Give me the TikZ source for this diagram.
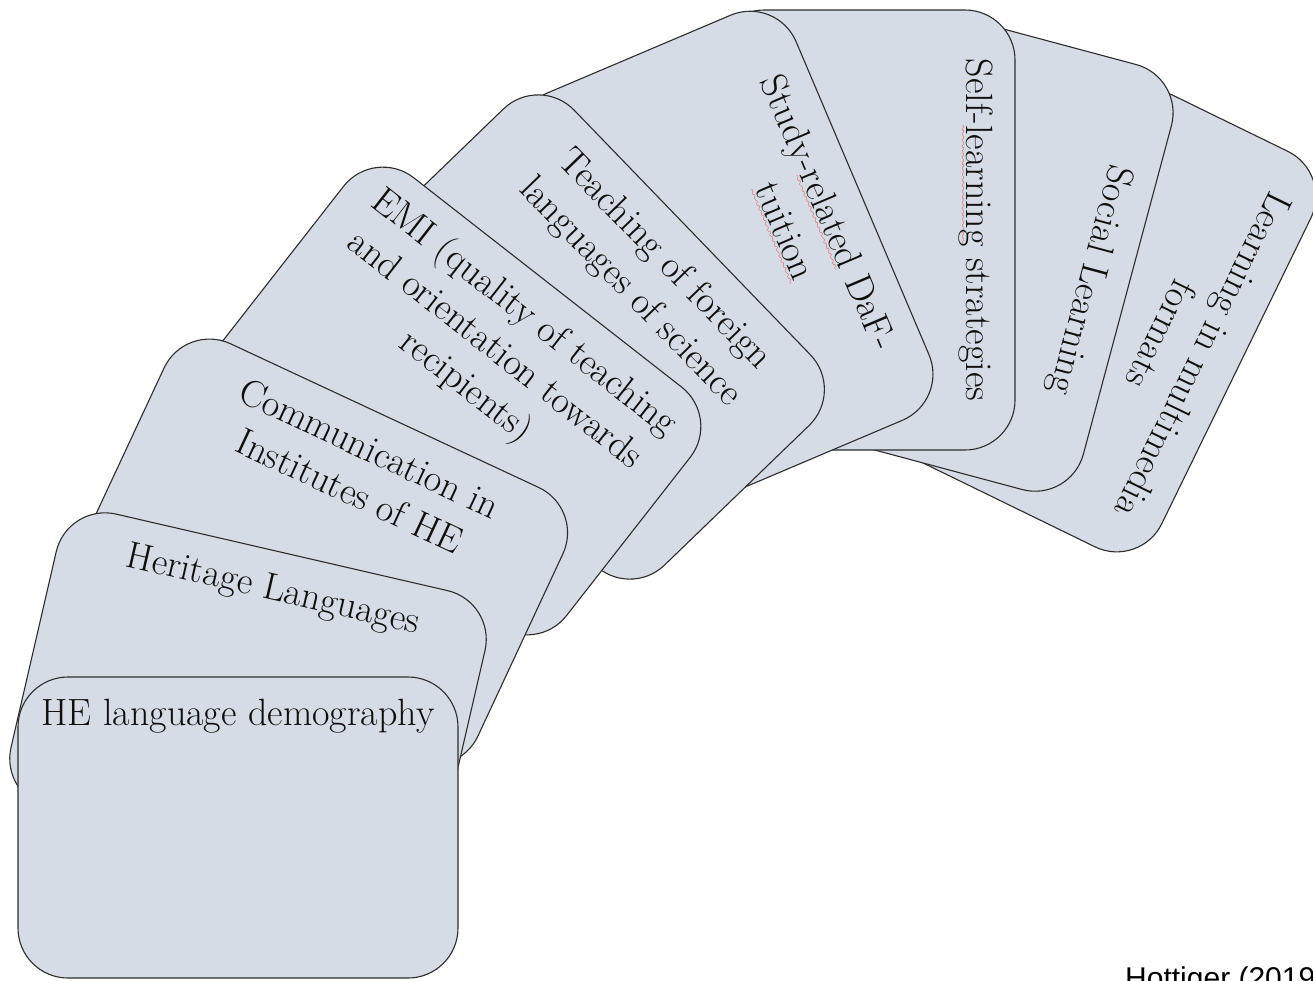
\documentclass[tikz,border=0pt]{standalone}
\usepackage{fontspec}
\newfontfamily\arialfont{Liberation Sans}
\definecolor{cardfill}{RGB}{214,220,229}
\definecolor{cardline}{RGB}{45,45,45}
\definecolor{cardtext}{RGB}{15,15,15}
\definecolor{spellred}{RGB}{235,30,30}
\font\wavefont=lasy8
\newsavebox\wavebox
\newcommand\spellwave[1]{\leavevmode\sbox\wavebox{#1}\rlap{\textcolor{spellred}{\lower5pt\hbox to \wd\wavebox{\leaders\hbox{\wavefont\char58}\hfill}}}\usebox\wavebox}
\newcommand\cardbox[1]{\parbox[c][301pt][t]{440pt}{\centering\fontsize{38}{47}\selectfont\vspace*{16pt}\strut #1\par}}
\tikzset{
  card/.style={draw=cardline, fill=cardfill, line width=1.1pt, rounded corners=50pt,
    inner sep=0pt, text=cardtext},
  cite/.style={anchor=base west, inner sep=0pt, text=black, font=\arialfont\fontsize{30}{32}\selectfont}
}
\begin{document}
\begin{tikzpicture}[x=1pt,y=-1pt]
\useasboundingbox (0,0) rectangle (1313,980);
\node[card, rotate=-116] (multi) at (1101,305) {\cardbox{Learning in multimedia\\formats}};
\node[card, rotate=-105] (social) at (982,251) {\cardbox{Social Learning}};
\node[card, rotate=-90] (self) at (864.5,230) {\cardbox{Self-\spellwave{learning} strategies}};
\node[card, rotate=-67] (study) at (724,257) {\cardbox{Study-\spellwave{related} DaF-\\\spellwave{tuition}}};
\node[card, rotate=-46] (teach) at (584,337) {\cardbox{Teaching of foreign\\languages of science}};
\node[card, rotate=-38] (emi) at (455,401) {\cardbox{EMI (quality of teaching\\and orientation towards\\recipients)}};
\node[card, rotate=-25] (comm) at (321,552) {\cardbox{Communication in\\Institutes of HE}};
\node[card, rotate=-13] (herit) at (248,699) {\cardbox{Heritage Languages}};
\node[card] (demo) at (238,827.5) {\cardbox{HE language demography}};
\node[cite] (hottiger) at (1125,988) {Hottiger (2019)};
\end{tikzpicture}
\end{document}
